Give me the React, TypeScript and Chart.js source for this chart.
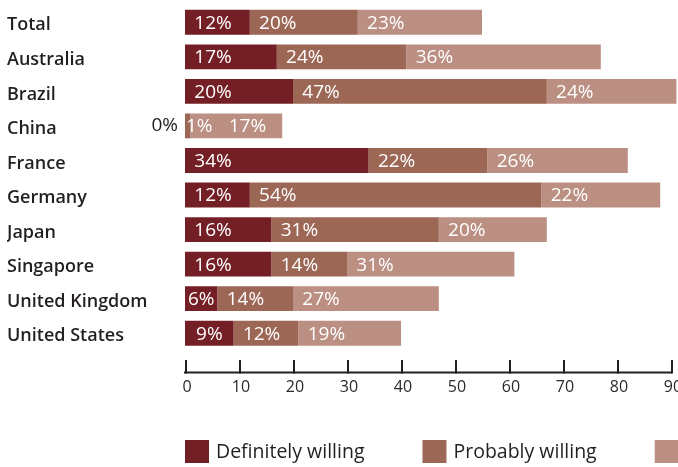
import React, { useEffect, useRef } from "react";
import { Chart, registerables } from "chart.js";

Chart.register(...registerables);

const categories = [
  "Total",
  "Australia",
  "Brazil",
  "China",
  "France",
  "Germany",
  "Japan",
  "Singapore",
  "United Kingdom",
  "United States",
];
const definitelyWilling = [12, 17, 20, 0, 34, 12, 16, 16, 6, 9];
const probablyWilling = [20, 24, 47, 1, 22, 54, 31, 14, 14, 12];
const possiblyWilling = [23, 36, 24, 17, 26, 22, 20, 31, 27, 19];
const seriesNames = ["Definitely willing", "Probably willing", "Possibly willing"];
const xTicks = [0, 10, 20, 30, 40, 50, 60, 70, 80, 90];
const seriesColors = ["#741f25", "#9d6756", "#bc8f83"];

const FONT = "'Open Sans', 'DejaVu Sans', sans-serif";
const TEXT = "#231f20";

const customDraw = {
  id: "customDraw",
  afterDatasetsDraw(chart: any) {
    const ctx = chart.ctx;
    ctx.save();
    ctx.font = `500 19px ${FONT}`;
    ctx.textBaseline = "middle";
    const n = chart.data.labels.length;
    for (let i = 0; i < n; i++) {
      let prevEnd = -Infinity;
      chart.data.datasets.forEach((ds: any, di: number) => {
        const el = chart.getDatasetMeta(di).data[i];
        const v = ds.data[i];
        const label = `${v}%`;
        const w = ctx.measureText(label).width;
        const base = Math.min(el.base, el.x);
        const end = Math.max(el.base, el.x);
        if (v === 0) {
          ctx.fillStyle = TEXT;
          ctx.textAlign = "right";
          ctx.fillText(label, base - 7, el.y);
          return;
        }
        const segW = end - base;
        const slot = Math.min(segW, 56);
        let start = Math.max(base + 1, base + slot / 2 - w / 2);
        if (start < prevEnd + 4) start = Math.max(start, (prevEnd + end) / 2 - w / 2);
        ctx.fillStyle = "#ffffff";
        ctx.textAlign = "left";
        ctx.fillText(label, start, el.y + 1);
        prevEnd = start + w;
      });
    }
    ctx.restore();
  },
  afterDraw(chart: any) {
    const ctx = chart.ctx;
    const xs = chart.scales.x;
    const area = chart.chartArea;
    const axisY = area.bottom + 22;
    ctx.save();
    ctx.strokeStyle = "#231f20";
    ctx.lineWidth = 2;
    ctx.beginPath();
    ctx.moveTo(xs.getPixelForValue(xTicks[0]) - 1, axisY);
    ctx.lineTo(xs.getPixelForValue(xTicks[xTicks.length - 1]) + 1, axisY);
    ctx.stroke();
    ctx.beginPath();
    xTicks.forEach((t) => {
      const px = xs.getPixelForValue(t) + 1;
      ctx.moveTo(px, axisY + 1);
      ctx.lineTo(px, axisY - 12.5);
    });
    ctx.stroke();
    ctx.fillStyle = "#2a2a2a";
    ctx.font = `400 16px ${FONT}`;
    ctx.textAlign = "center";
    ctx.textBaseline = "middle";
    xTicks.forEach((t) => {
      ctx.fillText(String(t), xs.getPixelForValue(t) + 2, axisY + 15);
    });
    ctx.font = `500 19.5px ${FONT}`;
    ctx.textBaseline = "middle";
    ctx.textAlign = "left";
    let lx = area.left;
    const ly = area.bottom + 89.5;
    seriesNames.forEach((name, i) => {
      ctx.fillStyle = seriesColors[i];
      ctx.fillRect(lx, ly, 24, 23);
      ctx.fillStyle = TEXT;
      ctx.fillText(name, lx + 31, ly + 12);
      lx += 31 + ctx.measureText(name).width + 58;
    });
    ctx.restore();
  },
};

export default function App() {
  const ref = useRef<HTMLCanvasElement | null>(null);
  useEffect(() => {
    if (!ref.current) return;
    const chart = new Chart(ref.current, {
      type: "bar",
      data: {
        labels: categories,
        datasets: [definitelyWilling, probablyWilling, possiblyWilling].map((d, i) => ({
          label: seriesNames[i],
          data: d,
          backgroundColor: seriesColors[i],
          borderWidth: 0,
          barPercentage: 0.72,
          categoryPercentage: 1,
          clip: false as any,
        })),
      },
      options: {
        indexAxis: "y",
        animation: false,
        responsive: false,
        layout: { padding: { left: 7, right: 7, top: 5, bottom: 116.5 } },
        plugins: { legend: { display: false }, tooltip: { enabled: false } },
        scales: {
          x: { stacked: true, min: 0, max: 90, display: false },
          y: {
            stacked: true,
            grid: { display: false, drawTicks: false },
            border: { display: false },
            ticks: {
              crossAlign: "far",
              color: TEXT,
              padding: 0,
              labelOffset: 3,
              font: { family: FONT, size: 18, weight: "600" },
            },
            afterFit: (s: any) => {
              s.width = 178;
              s.paddingTop = 0;
              s.paddingBottom = 0;
            },
          },
        },
      },
      plugins: [customDraw],
    });
    return () => chart.destroy();
  }, []);
  return (
    <div style={{ position: "absolute", left: 0, top: 0, width: 678, height: 467, background: "#fff" }}>
      <canvas ref={ref} width={678} height={467} style={{ display: "block" }} />
    </div>
  );
}
